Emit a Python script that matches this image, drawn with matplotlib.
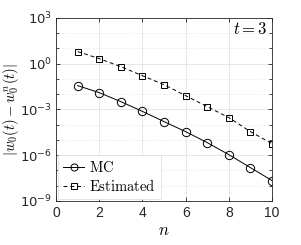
import matplotlib
matplotlib.use("Agg")
import matplotlib.pyplot as plt
import numpy as np
from matplotlib.ticker import FixedLocator, NullFormatter

plt.rcParams['mathtext.fontset'] = 'cm'
plt.rcParams['font.family'] = ['Liberation Sans', 'DejaVu Sans']

n = [1, 2, 3, 4, 5, 6, 7, 8, 9, 10]
mc_exp = [-1.44, -1.90, -2.49, -3.13, -3.80, -4.46, -5.18, -5.97, -6.82, -7.67]
est_exp = [0.79, 0.33, -0.20, -0.79, -1.38, -2.10, -2.82, -3.54, -4.46, -5.25]
mc = [10 ** e for e in mc_exp]
est = [10 ** e for e in est_exp]

fig = plt.figure(figsize=(3.01, 2.45), dpi=100)
ax = fig.add_axes([0.186, 0.180, 0.718, 0.747])

ax.semilogy(n, mc, '-o', color='black', linewidth=0.7, markersize=6,
            markerfacecolor='none', markeredgewidth=0.7, label=r'$\mathrm{MC}$')
ax.semilogy(n, est, '--s', color='black', linewidth=0.7, markersize=4.5,
            markerfacecolor='none', markeredgewidth=0.7, dashes=(4, 3),
            label=r'$\mathrm{Estimated}$')

ax.set_xlim(0, 10)
ax.set_ylim(1e-9, 1e3)
ax.set_xticks([0, 2, 4, 6, 8, 10])
ax.yaxis.set_major_locator(FixedLocator([1e-9, 1e-6, 1e-3, 1e0, 1e3]))
ax.yaxis.set_minor_locator(FixedLocator([10.0 ** k for k in range(-9, 4) if k % 3 != 0]))
ax.yaxis.set_minor_formatter(NullFormatter())
ax.set_yticklabels([r'$10^{-9}$', r'$10^{-6}$', r'$10^{-3}$', r'$10^{0}$', r'$10^{3}$'])
for lab in ax.get_yticklabels():
    lab.set_math_fontfamily('dejavusans')
ax.tick_params(which='both', direction='in', top=True, right=True, labelsize=10,
               width=0.6, color='#262626', labelcolor='#262626')
ax.tick_params(axis='y', labelsize=9.5, pad=3)
ax.tick_params(which='major', length=3)
ax.tick_params(which='minor', length=2)

ax.grid(True, which='major', color='#e3e3e3', linewidth=0.6, linestyle='-')
ax.grid(True, which='minor', axis='y', color='#e3e3e3', linewidth=0.6, linestyle=':')
ax.set_axisbelow(True)
for sp in ax.spines.values():
    sp.set_color('#262626')
    sp.set_linewidth(0.6)

ax.set_xlabel(r'$n$', fontsize=12, labelpad=2)
ax.set_ylabel(r'$|w_0(t) - w_0^n(t)|$', fontsize=10.5, va='center')
ax.yaxis.set_label_coords(-0.21, 0.5)
ax.text(0.98, 0.94, r'$t=3$', transform=ax.transAxes, ha='right', va='center',
        fontsize=12)

leg = ax.legend(loc='lower left', fontsize=10.5, handlelength=1.45, handletextpad=0.3,
                borderpad=0.35, labelspacing=0.2, fancybox=False, framealpha=1,
                borderaxespad=0.15, markerscale=0.85)
leg.get_frame().set_edgecolor('#e0e0e0')
leg.get_frame().set_linewidth(0.6)

fig.savefig('out.png', dpi=100)
